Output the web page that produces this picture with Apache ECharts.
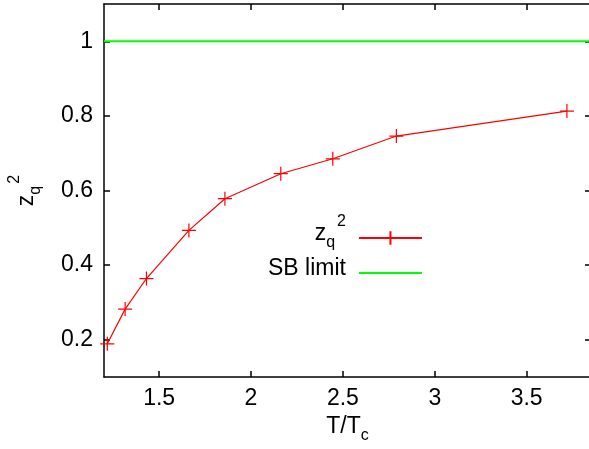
<!DOCTYPE html>
<html>
<head>
<meta charset="utf-8">
<script src="https://cdn.jsdelivr.net/npm/echarts@6/dist/echarts.min.js"></script>
<style>
  html, body { margin: 0; padding: 0; background: #fff; }
  #chart { width: 589px; height: 449px; }
</style>
</head>
<body>
<div id="chart"></div>
<script>
// Reduced temperature T/Tc and quark wave-function renormalisation z_q^2
const tRatio = [1.218, 1.315, 1.431, 1.662, 1.858, 2.162, 2.445, 2.791, 3.719];
const zq2 = [0.189, 0.282, 0.364, 0.493, 0.578, 0.645, 0.685, 0.746, 0.813];

// Stefan-Boltzmann (free) limit
const sbLimit = 1;

// Axis ranges and tick labels
const xRange = [1.2, 3.85];
const yRange = [0.1, 1.1];
const xTicks = [1.5, 2, 2.5, 3, 3.5];
const yTicks = [0.2, 0.4, 0.6, 0.8, 1];

const FONT = 'Liberation Sans, Arial, Helvetica, sans-serif';
const BLACK = '#000000';
const RED = '#ff0000';
const GREEN = '#00ff00';

const plusSymbol = 'path://M0,7 L14,7 M7,0 L7,14';

const richBase = {
  n:   { fontFamily: FONT, fontSize: 23, color: BLACK, lineHeight: 26, verticalAlign: 'bottom', padding: [0, 0, 6, 0] },
  sub: { fontFamily: FONT, fontSize: 16, color: BLACK, lineHeight: 19, verticalAlign: 'bottom', padding: [0, 0, 0, 0] },
  sup: { fontFamily: FONT, fontSize: 16, color: BLACK, lineHeight: 19, verticalAlign: 'bottom', padding: [0, 0, 21, 2] }
};

function axisCommon(range, ticks) {
  return {
    type: 'value',
    min: range[0],
    max: range[1],
    axisLine: { show: true, onZero: false, lineStyle: { color: BLACK, width: 1.5 } },
    axisTick: { show: true, inside: true, length: 6, customValues: ticks, lineStyle: { color: BLACK, width: 1.5 } },
    splitLine: { show: false }
  };
}

const chart = echarts.init(document.getElementById('chart'), null, { renderer: 'canvas' });

chart.setOption({
  animation: false,
  backgroundColor: '#ffffff',
  grid: { left: 104, top: 4, width: 487, height: 373, outerBoundsMode: 'none', containLabel: false },
  xAxis: [
    Object.assign(axisCommon(xRange, xTicks), {
      position: 'bottom',
      name: '{n|T/T}{sub|c}',
      nameLocation: 'middle',
      nameGap: 39,
      nameTextStyle: { rich: richBase },
      axisLabel: {
        show: true, customValues: xTicks, margin: 10,
        fontFamily: FONT, fontSize: 23, color: BLACK,
        formatter: v => String(v)
      }
    }),
    Object.assign(axisCommon(xRange, xTicks), {
      position: 'top',
      axisLabel: { show: false }
    })
  ],
  yAxis: [
    Object.assign(axisCommon(yRange, yTicks), {
      position: 'left',
      name: '{n|z}{sub|q}{sup|2}',
      nameLocation: 'middle',
      nameRotate: 90,
      nameGap: 60,
      nameTextStyle: { rich: richBase },
      axisLabel: {
        show: true, customValues: yTicks, margin: 11,
        fontFamily: FONT, fontSize: 23, color: BLACK,
        formatter: v => String(v)
      }
    }),
    Object.assign(axisCommon(yRange, yTicks), {
      position: 'right',
      axisLabel: { show: false }
    })
  ],
  legend: {
    orient: 'vertical',
    align: 'right',
    left: 268,
    top: 214,
    itemWidth: 63,
    itemHeight: 17,
    itemGap: 6,
    padding: 0,
    data: [
      { name: 'z_q^2' },
      { name: 'SB limit', itemStyle: { opacity: 0 } }
    ],
    formatter: name => name === 'z_q^2' ? '{n|z}{sub|q}{sup|2}' : '{n|SB limit}',
    textStyle: { rich: richBase, padding: [0, 8, 0, 0] }
  },
  series: [
    {
      name: 'z_q^2',
      type: 'line',
      xAxisIndex: 0,
      yAxisIndex: 0,
      data: tRatio.map((t, i) => [t, zq2[i]]),
      symbol: plusSymbol,
      symbolSize: 14,
      showSymbol: true,
      lineStyle: { color: RED, width: 1.2 },
      itemStyle: { color: RED, borderColor: RED, borderWidth: 1.2 },
      z: 3
    },
    {
      name: 'SB limit',
      type: 'line',
      xAxisIndex: 0,
      yAxisIndex: 0,
      data: xRange.map(t => [t, sbLimit]),
      symbol: 'none',
      lineStyle: { color: GREEN, width: 2 },
      itemStyle: { color: GREEN },
      z: 2
    }
  ]
});
</script>
</body>
</html>
